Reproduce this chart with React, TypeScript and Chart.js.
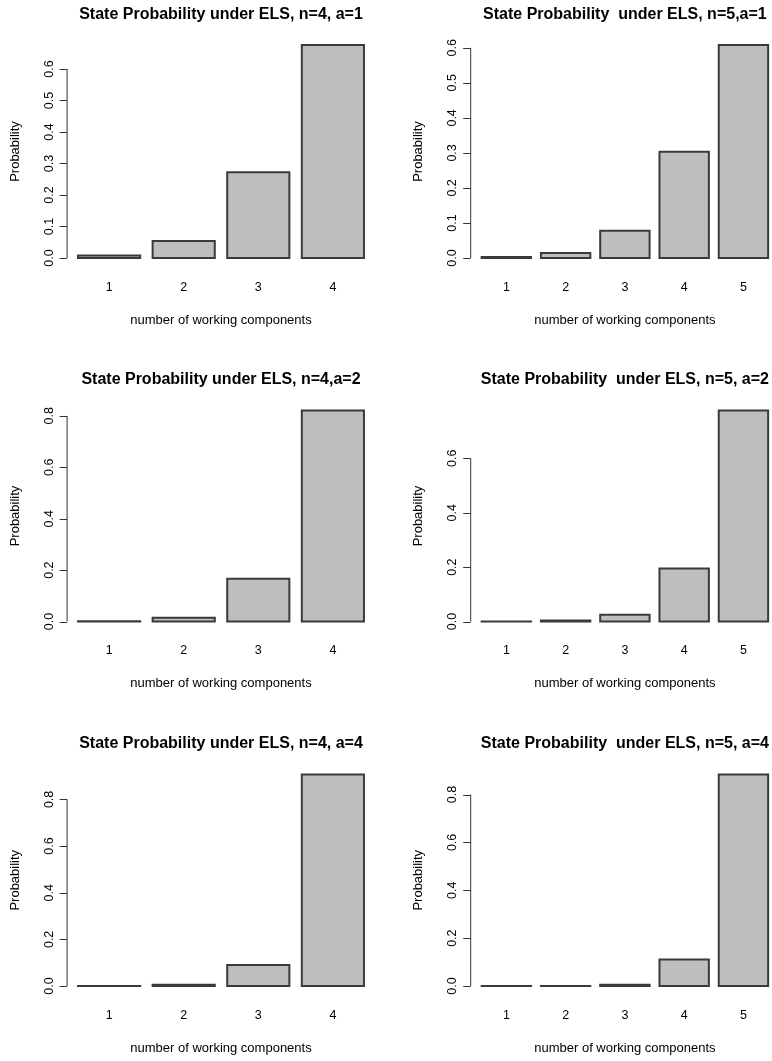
import React, { useEffect, useRef } from "react";
import { Chart, registerables } from "chart.js";

Chart.register(...registerables);

// ---------- data ----------
const states4 = ["1", "2", "3", "4"];
const states5 = ["1", "2", "3", "4", "5"];

const probN4A1 = [0.008, 0.054, 0.272, 0.676];
const probN5A1 = [0.003, 0.014, 0.078, 0.303, 0.608];
const probN4A2 = [0.0008, 0.015, 0.166, 0.821];
const probN5A2 = [0.0005, 0.004, 0.025, 0.195, 0.776];
const probN4A4 = [0.0003, 0.005, 0.09, 0.907];
const probN5A4 = [0.0001, 0.0004, 0.005, 0.111, 0.884];

const ticksTenthsTo06 = ["0.0", "0.1", "0.2", "0.3", "0.4", "0.5", "0.6"];
const ticksFifthsTo08 = ["0.0", "0.2", "0.4", "0.6", "0.8"];
const ticksFifthsTo06 = ["0.0", "0.2", "0.4", "0.6"];

const titleN4A1 = "State Probability under ELS, n=4, a=1";
const titleN5A1 = "State Probability  under ELS, n=5,a=1";
const titleN4A2 = "State Probability under ELS, n=4,a=2";
const titleN5A2 = "State Probability  under ELS, n=5, a=2";
const titleN4A4 = "State Probability under ELS, n=4, a=4";
const titleN5A4 = "State Probability  under ELS, n=5, a=4";

const xAxisTitle = "number of working components";
const yAxisTitle = "Probability";

// ---------- layout (page pixels) ----------
const COLS = [
  { plotLeft: 66.6, plotRight: 375.4, canvasLeft: 0, canvasWidth: 386 },
  { plotLeft: 470.2, plotRight: 779.6, canvasLeft: 386, canvasWidth: 400 },
];
const ROWS = [
  { plotTop: 36.5, plotBottom: 266.5, canvasTop: 0, canvasHeight: 350 },
  { plotTop: 402, plotBottom: 630, canvasTop: 350, canvasHeight: 360 },
  { plotTop: 766, plotBottom: 994.5, canvasTop: 710, canvasHeight: 351 },
];

const FONT = '"Liberation Sans", Arial, Helvetica, sans-serif';
const BAR_FILL = "#bebebe";
const BAR_EDGE = "#3a3a3a";
const AXIS_COLOR = "#333333";

type PanelCfg = {
  title: string;
  labels: string[];
  values: number[];
  yTicks: string[];
  col: number;
  row: number;
};

const panels: PanelCfg[] = [
  { title: titleN4A1, labels: states4, values: probN4A1, yTicks: ticksTenthsTo06, col: 0, row: 0 },
  { title: titleN5A1, labels: states5, values: probN5A1, yTicks: ticksTenthsTo06, col: 1, row: 0 },
  { title: titleN4A2, labels: states4, values: probN4A2, yTicks: ticksFifthsTo08, col: 0, row: 1 },
  { title: titleN5A2, labels: states5, values: probN5A2, yTicks: ticksFifthsTo06, col: 1, row: 1 },
  { title: titleN4A4, labels: states4, values: probN4A4, yTicks: ticksFifthsTo08, col: 0, row: 2 },
  { title: titleN5A4, labels: states5, values: probN5A4, yTicks: ticksFifthsTo08, col: 1, row: 2 },
];

function Panel({ cfg }: { cfg: PanelCfg }) {
  const ref = useRef<HTMLCanvasElement | null>(null);
  const col = COLS[cfg.col];
  const row = ROWS[cfg.row];

  useEffect(() => {
    const canvas = ref.current;
    if (!canvas) return;
    const n = cfg.labels.length;
    // R barplot geometry: bars width 1, space 0.2, xlim [0.2, 1.2n] expanded by 4%
    const xlo = 0.2;
    const xhi = 1.2 * n;
    const d = 0.04 * (xhi - xlo);
    const usrLo = xlo - d;
    const usrHi = xhi + d;
    const plotW = col.plotRight - col.plotLeft;
    const toPx = (u: number) => col.plotLeft + ((u - usrLo) / (usrHi - usrLo)) * plotW;
    const catLeft = toPx(0.1);
    const catRight = toPx(1.2 * n + 0.1);

    const maxV = Math.max(...cfg.values);
    const yMin = -0.04 * maxV;
    const yMax = 1.04 * maxV;

    const ox = col.canvasLeft;
    const oy = row.canvasTop;

    const decor = {
      id: "rbase",
      afterDatasetsDraw(chart: any) {
        const ctx = chart.ctx;
        const meta = chart.getDatasetMeta(0);
        ctx.save();
        ctx.strokeStyle = BAR_EDGE;
        ctx.lineWidth = 2;
        meta.data.forEach((el: any) => {
          const p = el.getProps(["x", "y", "base", "width"], true);
          ctx.beginPath();
          ctx.rect(p.x - p.width / 2, Math.min(p.y, p.base), p.width, Math.abs(p.base - p.y));
          ctx.stroke();
        });
        ctx.restore();
      },
      afterDraw(chart: any) {
        const ctx = chart.ctx;
        const ys = chart.scales.y;
        const xs = chart.scales.x;
        const pl = col.plotLeft - ox;
        const pcx = (col.plotLeft + col.plotRight) / 2 - ox;
        const pt = row.plotTop - oy;
        const pb = row.plotBottom - oy;
        const pcy = (pt + pb) / 2;
        ctx.save();
        // y axis
        const tickVals = cfg.yTicks.map((t) => parseFloat(t));
        const yFirst = ys.getPixelForValue(tickVals[0]);
        const yLast = ys.getPixelForValue(tickVals[tickVals.length - 1]);
        ctx.strokeStyle = AXIS_COLOR;
        ctx.lineWidth = 1;
        ctx.beginPath();
        ctx.moveTo(pl + 0.5, yFirst);
        ctx.lineTo(pl + 0.5, yLast);
        tickVals.forEach((v) => {
          const py = Math.round(ys.getPixelForValue(v)) + 0.5;
          ctx.moveTo(pl + 0.5, py);
          ctx.lineTo(pl - 7, py);
        });
        ctx.stroke();
        ctx.fillStyle = "#000";
        ctx.textAlign = "center";
        ctx.textBaseline = "middle";
        ctx.font = `12.5px ${FONT}`;
        cfg.yTicks.forEach((t, i) => {
          ctx.save();
          ctx.translate(pl - 17.5, ys.getPixelForValue(tickVals[i]));
          ctx.rotate(-Math.PI / 2);
          ctx.fillText(t, 0, 0);
          ctx.restore();
        });
        // x category labels
        cfg.labels.forEach((lab, i) => {
          ctx.fillText(lab, xs.getPixelForValue(i), pb + 21);
        });
        // axis titles
        ctx.font = `13px ${FONT}`;
        ctx.fillText(xAxisTitle, pcx, pb + 53.5);
        ctx.save();
        ctx.translate(col.plotLeft - 51.5 - ox, pcy);
        ctx.rotate(-Math.PI / 2);
        ctx.fillText(yAxisTitle, 0, 0);
        ctx.restore();
        // main title
        ctx.font = `bold 16px ${FONT}`;
        ctx.fillText(cfg.title, pcx, pt - 22);
        ctx.restore();
      },
    };

    const chart = new Chart(canvas, {
      type: "bar",
      data: {
        labels: cfg.labels,
        datasets: [
          {
            data: cfg.values,
            backgroundColor: BAR_FILL,
            borderWidth: 0,
            barPercentage: 1,
            categoryPercentage: 1 / 1.2,
          },
        ],
      },
      options: {
        responsive: false,
        animation: false,
        devicePixelRatio: 1,
        layout: {
          padding: {
            left: catLeft - ox,
            right: ox + col.canvasWidth - catRight,
            top: row.plotTop - oy,
            bottom: oy + row.canvasHeight - row.plotBottom,
          },
        },
        plugins: {
          legend: { display: false },
          tooltip: { enabled: false },
          title: { display: false },
        },
        scales: {
          x: { type: "category", display: false, offset: true, grid: { display: false } },
          y: { type: "linear", display: false, min: yMin, max: yMax, grid: { display: false } },
        },
      },
      plugins: [decor],
    });
    return () => chart.destroy();
  }, [cfg]);

  return (
    <canvas
      ref={ref}
      width={col.canvasWidth}
      height={row.canvasHeight}
      style={{
        position: "absolute",
        left: col.canvasLeft,
        top: row.canvasTop,
        width: col.canvasWidth,
        height: row.canvasHeight,
      }}
    />
  );
}

export default function App() {
  return (
    <div
      style={{
        position: "absolute",
        left: 0,
        top: 0,
        width: 772,
        height: 1061,
        overflow: "hidden",
        background: "#ffffff",
      }}
    >
      {panels.map((p, i) => (
        <Panel key={i} cfg={p} />
      ))}
    </div>
  );
}
